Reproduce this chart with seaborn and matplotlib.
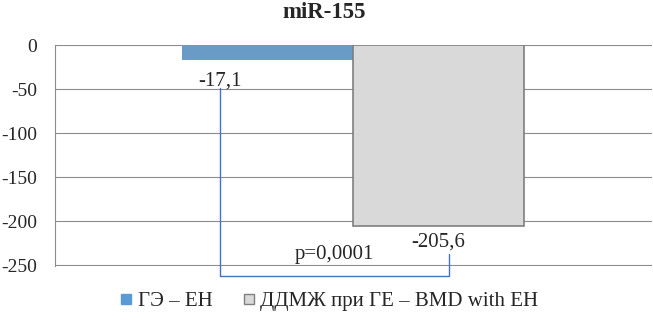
import numpy as np
import pandas as pd
import seaborn as sns
import matplotlib
matplotlib.use("Agg")
import matplotlib.pyplot as plt
from matplotlib.lines import Line2D

# data
series = ["ГЭ – ЕН", "ДДМЖ при ГЕ – BMD with ЕН"]
values = [-17.1, -205.6]
value_labels = ["-17,1", "-205,6"]
p_text = "p=0,0001"
yticks = [0, -50, -100, -150, -200, -250]
colors = ["#5B9BD5", "#D9D9D9"]

df = pd.DataFrame({"group": ["miR-155"] * len(series), "series": series, "value": values})

sns.set_style("white")
plt.rcParams['font.family'] = ['Liberation Serif', 'DejaVu Serif']

fig = plt.figure(figsize=(6.53, 3.2), dpi=100)
ax = fig.add_axes([0.084, 0.169, 0.914, 0.69])

sns.barplot(data=df, x="group", y="value", hue="series", palette=colors,
            width=0.573, ax=ax, legend=False, errorbar=None)
for patch, ec in zip(ax.patches, ["none", "#7F7F7F"]):
    patch.set_edgecolor(ec)
    patch.set_linewidth(1.2)

ax.set_xlim(-0.5, 0.5)
ax.set_ylim(-250.6, 0.3)
ax.set_yticks(yticks)
ax.set_yticklabels([str(t) for t in yticks], fontsize=14)
ax.set_xticks([])
ax.set_xlabel("")
ax.set_ylabel("")
ax.grid(axis="y", color="#8C8C8C", linewidth=0.8)
ax.set_axisbelow(True)
for s in ["top", "right", "bottom"]:
    ax.spines[s].set_visible(False)
ax.spines["left"].set_color("#8C8C8C")
ax.spines["left"].set_linewidth(0.8)
ax.tick_params(axis="y", length=0, pad=13)

# value labels
ax.text(-0.224, -40.5, value_labels[0], ha="center", va="center", fontsize=15)
ax.text(0.143, -223.5, value_labels[1], ha="center", va="center", fontsize=15)

# significance bracket
bx = [-0.224, -0.224, 0.16, 0.16]
by = [-48.6, -262.4, -262.4, -237.6]
ax.plot(bx, by, color="#4472C4", linewidth=1.0, clip_on=False)
ax.text(-0.031, -237.5, p_text, ha="center", va="center", fontsize=15)

fig.text(0.497, 0.962, "miR-155", ha="center", va="center", fontsize=16.5, fontweight="bold")

handles = [Line2D([], [], linestyle="none", marker="s", markersize=7, markerfacecolor=colors[0],
                  markeredgecolor=colors[0]),
           Line2D([], [], linestyle="none", marker="s", markersize=7, markerfacecolor=colors[1],
                  markeredgecolor="#7F7F7F", markeredgewidth=1.0)]
fig.legend(handles, series, loc="center", bbox_to_anchor=(0.505, 0.058), ncol=2,
           frameon=False, fontsize=15, handlelength=0.5,
           handletextpad=0.3, columnspacing=1.5, borderpad=0)

fig.savefig("out.png", dpi=100)
